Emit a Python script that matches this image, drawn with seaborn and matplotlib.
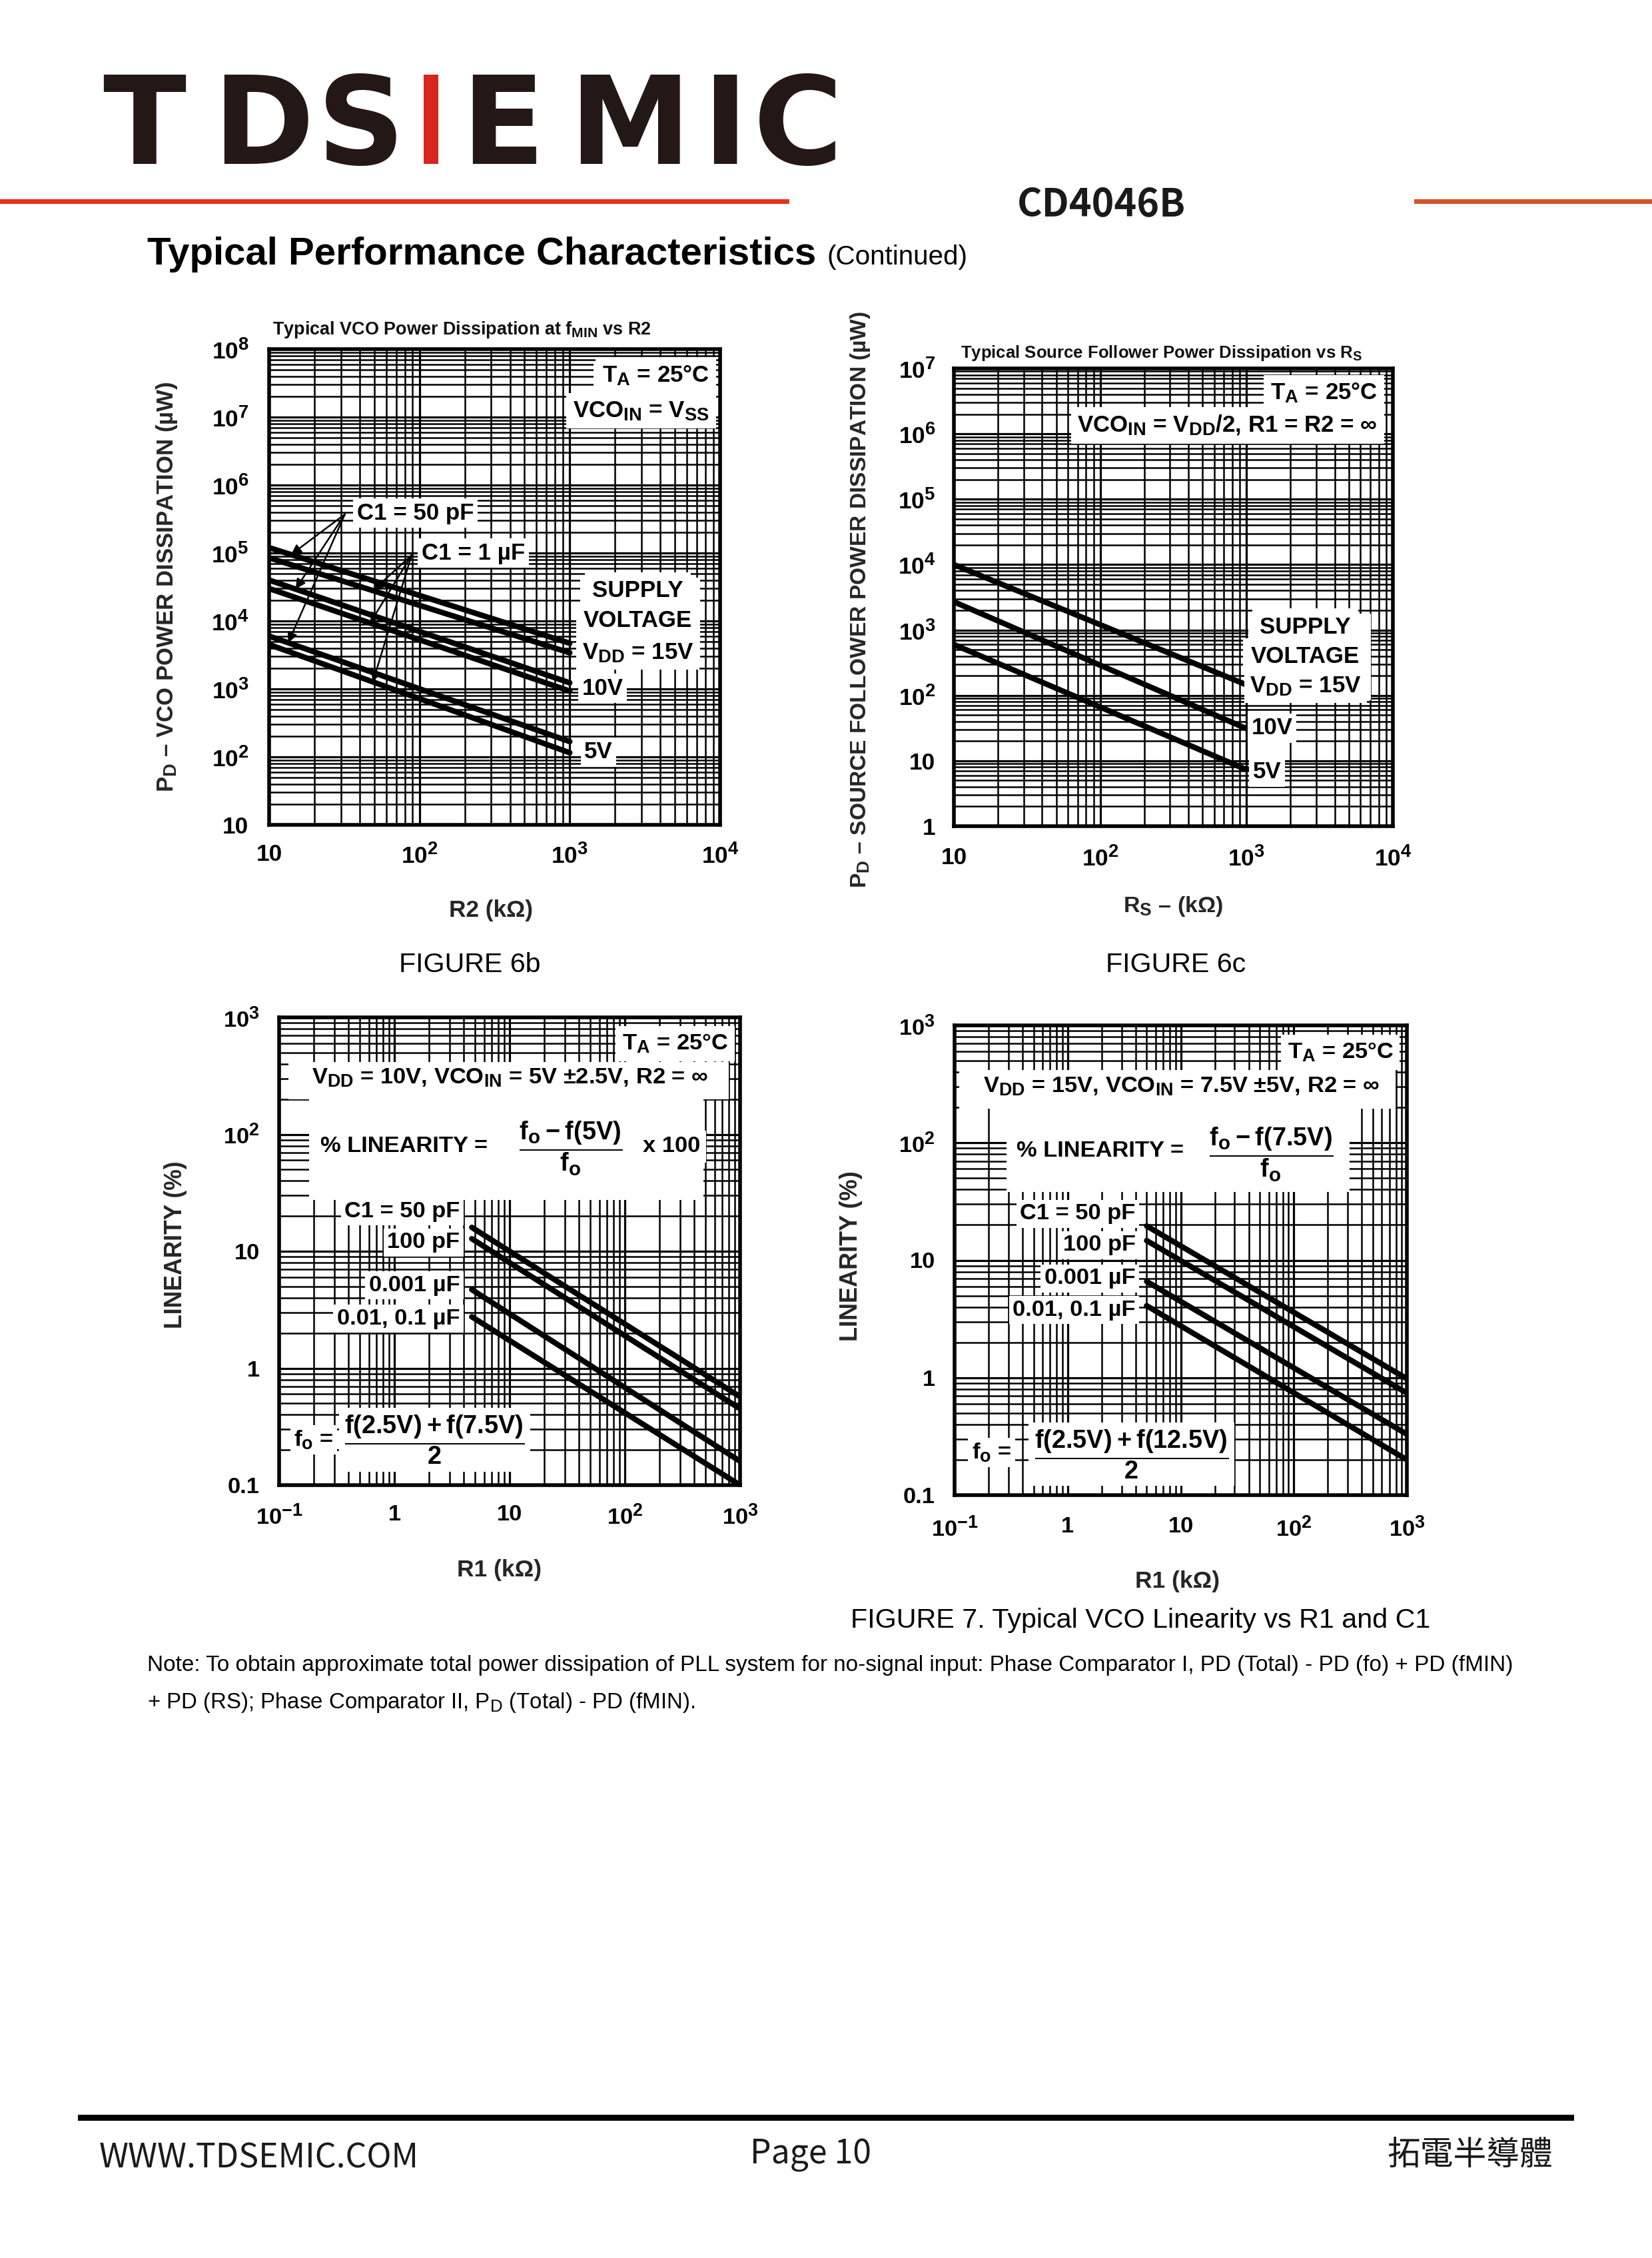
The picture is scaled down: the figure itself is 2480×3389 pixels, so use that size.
import numpy as np
import pandas as pd
import matplotlib
matplotlib.use("Agg")
import matplotlib.pyplot as plt
import matplotlib._mathtext as _mt
import seaborn as sns
from matplotlib import font_manager
from matplotlib.ticker import LogLocator, NullFormatter
from matplotlib.patches import Rectangle

# ------------------------------------------------------------------ data
# Figure 6b: VCO power dissipation at fMIN vs R2 (uW)
R2_KOHM = [10, 1000]
PD6B_15V_50PF = [1.2e5, 4.7e3]
PD6B_15V_1UF = [8.5e4, 3.4e3]
PD6B_10V_50PF = [4.0e4, 1.23e3]
PD6B_10V_1UF = [3.0e4, 9.3e2]
PD6B_5V_50PF = [6.0e3, 1.68e2]
PD6B_5V_1UF = [4.5e3, 1.15e2]

# Figure 6c: source follower power dissipation vs RS (uW)
RS_KOHM = [10, 1000]
PD6C_15V = [1.0e4, 1.45e2]
PD6C_10V = [2.7e3, 31]
PD6C_5V = [6.0e2, 7.3]

# Figure 7 (left): linearity, VDD = 10 V
R1_KOHM_10V = [4.7, 1000]
LIN10_50PF = [16.0, 0.57]
LIN10_100PF = [12.8, 0.45]
LIN10_1NF = [4.7, 0.16]
LIN10_10NF = [2.75, 0.10]

# Figure 7 (right): linearity, VDD = 15 V
R1_KOHM_15V = [5.0, 1000]
LIN15_50PF = [19.6, 0.98]
LIN15_100PF = [14.7, 0.74]
LIN15_1NF = [6.6, 0.33]
LIN15_10NF = [4.1, 0.20]

# tick values / labels
X6_TICKS = [10, 100, 1000, 10000]
X6_LABELS = ["10", r"$\mathregular{10^2}$", r"$\mathregular{10^3}$", r"$\mathregular{10^4}$"]
Y6B_TICKS = [1e1, 1e2, 1e3, 1e4, 1e5, 1e6, 1e7, 1e8]
Y6B_LABELS = ["10"] + [r"$\mathregular{10^%d}$" % k for k in range(2, 9)]
Y6C_TICKS = [1, 1e1, 1e2, 1e3, 1e4, 1e5, 1e6, 1e7]
Y6C_LABELS = ["1", "10"] + [r"$\mathregular{10^%d}$" % k for k in range(2, 8)]
X7_TICKS = [0.1, 1, 10, 100, 1000]
X7_LABELS = [r"$\mathregular{10^{-1}}$", "1", "10", r"$\mathregular{10^2}$", r"$\mathregular{10^3}$"]
Y7_TICKS = [0.1, 1, 10, 100, 1000]
Y7_LABELS = ["0.1", "1", "10", r"$\mathregular{10^2}$", r"$\mathregular{10^3}$"]

# ------------------------------------------------------------------ style
sns.set_theme(style="white")
names = {f.name for f in font_manager.fontManager.ttflist}
CHART_FONT = "Liberation Sans Narrow" if "Liberation Sans Narrow" in names else "Liberation Sans"
ARIAL = ["Liberation Sans", "DejaVu Sans"]
NOTO = ["Noto Sans CJK TC", "DejaVu Sans"]
plt.rcParams["font.family"] = [CHART_FONT, "DejaVu Sans"]
plt.rcParams["mathtext.fontset"] = "custom"
plt.rcParams["mathtext.rm"] = CHART_FONT
plt.rcParams["axes.unicode_minus"] = True
_mt.SHRINK_FACTOR = 0.78   # larger sub/superscripts, as in the scanned chart

W, H = 2480, 3389
fig = plt.figure(figsize=(W / 100, H / 100), dpi=100)
fig.patch.set_facecolor("white")
renderer = fig.canvas.get_renderer()


def box(x0, y0, x1, y1):
    return [x0 / W, 1 - y1 / H, (x1 - x0) / W, (y1 - y0) / H]


def fxy(x, y):
    return x / W, 1 - y / H


def fit(t, target, dim="w"):
    bb = t.get_window_extent(renderer=renderer)
    cur = bb.width if dim == "w" else bb.height
    if cur > 0:
        t.set_fontsize(t.get_fontsize() * target / cur)


# scale for chart lettering (depends on which font is available)
probe = fig.text(0, 0, "SUPPLY", fontsize=30, fontweight="bold")
S = 129.0 / probe.get_window_extent(renderer=renderer).width
probe.remove()
T6 = 28 * S * 1.13
TK6 = 27 * S * 1.18
T7 = 26 * S * 1.2
TK7 = 26 * S * 1.2
FR7 = T7 * 1.1


def make_axes(pxbox):
    ax = fig.add_axes(box(*pxbox))
    ax.set_xscale("log")
    ax.set_yscale("log")
    return ax


def finish_axes(ax, xlim, ylim, xt, xtl, yt, ytl, tick_fs, xpad, ypad):
    ax.set_xlim(*xlim)
    ax.set_ylim(*ylim)
    ax.set_xticks(xt, labels=xtl)
    ax.set_yticks(yt, labels=ytl)
    for axis in (ax.xaxis, ax.yaxis):
        axis.set_minor_locator(LogLocator(base=10, subs=np.arange(2, 10), numticks=100))
        axis.set_minor_formatter(NullFormatter())
    ax.set_axisbelow(True)
    ax.grid(True, which="major", color="black", lw=2.3)
    ax.grid(True, which="minor", color="black", lw=1.8)
    ax.tick_params(which="both", length=0)
    ax.tick_params(axis="x", pad=xpad, labelsize=tick_fs, colors="black")
    ax.tick_params(axis="y", pad=ypad, labelsize=tick_fs, colors="black")
    for lab in ax.get_xticklabels() + ax.get_yticklabels():
        lab.set_fontweight("bold")
    for sp in ax.spines.values():
        sp.set_visible(True)
        sp.set_color("black")
        sp.set_linewidth(4)
    ax.set_facecolor("white")


def blank(ax, x0, y0, x1, y1):
    """White panel (in axes fraction) that masks the grid behind annotation blocks."""
    ax.add_patch(Rectangle((x0, y0), x1 - x0, y1 - y0, transform=ax.transAxes,
                           facecolor="white", edgecolor="none", zorder=1.5))


def ctext(ax, x, y, s, fs, ha="left", va="center", bg=True, pad=4):
    kw = dict(transform=ax.transAxes, ha=ha, va=va, fontsize=fs,
              fontweight="bold", color="black", zorder=5)
    if bg:
        kw["bbox"] = dict(facecolor="white", edgecolor="none", pad=pad)
    return ax.text(x, y, s, **kw)


def loginterp(x, xs, ys):
    return 10 ** np.interp(np.log10(x), np.log10(xs), np.log10(ys))


def draw_series(ax, xs, series, lw=6):
    rows = []
    for name, vals in series.items():
        for xv, yv in zip(xs, vals):
            rows.append((name, xv, yv))
    df = pd.DataFrame(rows, columns=["series", "x", "y"])
    sns.lineplot(data=df, x="x", y="y", hue="series", palette=["black"] * len(series),
                 linewidth=lw, legend=False, ax=ax, zorder=3, estimator=None)
    ax.set_xlabel("")
    ax.set_ylabel("")


# ------------------------------------------------------------------ header
logo_letters = [("T", 217), ("D", 395), ("S", 542), ("E", 755), ("M", 945), ("I", 1088), ("C", 1198)]
for ch, cx in logo_letters:
    fig.text(*fxy(cx, 246), ch, ha="center", va="baseline", fontsize=132,
             family=["DejaVu Sans"], fontweight="bold", color="#231815")
fig.patches.append(Rectangle(fxy(636, 246), 22 / W, 134 / H, transform=fig.transFigure,
                             facecolor="#d7261e", edgecolor="none"))
fig.patches.append(Rectangle(fxy(0, 306), 1185 / W, 7 / H, transform=fig.transFigure,
                             facecolor="#e5321d", edgecolor="none"))
fig.patches.append(Rectangle(fxy(2123, 306), (W - 2123) / W, 7 / H, transform=fig.transFigure,
                             facecolor="#d6542b", edgecolor="none"))

t = fig.text(*fxy(1527, 324), "CD4046B", ha="left", va="baseline", fontsize=45,
             family=NOTO, fontweight="bold", color="#1a1a1a")
fit(t, 253)
t = fig.text(*fxy(221, 397), "Typical Performance Characteristics", ha="left", va="baseline",
             fontsize=42, family=ARIAL, fontweight="bold", color="black")
fit(t, 1005)
t = fig.text(*fxy(1242, 397), "(Continued)", ha="left", va="baseline",
             fontsize=29, family=ARIAL, color="black")
fit(t, 211)

# ------------------------------------------------------------------ Figure 6b
ax = make_axes((404, 524, 1081, 1238))
draw_series(ax, R2_KOHM, {"15V 50pF": PD6B_15V_50PF, "15V 1uF": PD6B_15V_1UF,
                          "10V 50pF": PD6B_10V_50PF, "10V 1uF": PD6B_10V_1UF,
                          "5V 50pF": PD6B_5V_50PF, "5V 1uF": PD6B_5V_1UF})
finish_axes(ax, (10, 1e4), (10, 1e8), X6_TICKS, X6_LABELS, Y6B_TICKS, Y6B_LABELS, TK6, 20, 22)
blank(ax, 0.69, 0.33, 0.955, 0.52)
blank(ax, 0.72, 0.84, 0.975, 0.975)
ctext(ax, 0.976, 0.945, r"$\mathregular{T_A}$ = 25°C", T6, ha="right", pad=7)
ctext(ax, 0.976, 0.870, r"$\mathregular{VCO_{IN}}$ = $\mathregular{V_{SS}}$", T6, ha="right", pad=7)
ctext(ax, 0.195, 0.655, "C1 = 50 pF", T6)
ctext(ax, 0.338, 0.571, "C1 = 1 µF", T6)
ctext(ax, 0.818, 0.492, "SUPPLY", T6, ha="center", pad=8)
ctext(ax, 0.818, 0.429, "VOLTAGE", T6, ha="center", pad=8)
ctext(ax, 0.694, 0.361, r"$\mathregular{V_{DD}}$ = 15V", T6, pad=6)
ctext(ax, 0.694, 0.287, "10V", T6)
ctext(ax, 0.699, 0.153, "5V", T6)
arrow_kw = dict(arrowstyle="-|>", color="black", lw=1.8, mutation_scale=22, shrinkA=0, shrinkB=0)
for xa, ys in [(14, PD6B_15V_50PF), (15, PD6B_10V_50PF), (13.4, PD6B_5V_50PF)]:
    ax.annotate("", xy=(xa, loginterp(xa, R2_KOHM, ys)), xycoords="data",
                xytext=(0.168, 0.653), textcoords="axes fraction", arrowprops=arrow_kw, zorder=4)
for xa, ys in [(49, PD6B_15V_1UF), (47, PD6B_10V_1UF), (49, PD6B_5V_1UF)]:
    ax.annotate("", xy=(xa, loginterp(xa, R2_KOHM, ys)), xycoords="data",
                xytext=(0.316, 0.567), textcoords="axes fraction", arrowprops=arrow_kw, zorder=4)
t = ax.text(0.008, 1.04, r"Typical VCO Power Dissipation at $\mathregular{f_{MIN}}$ vs R2",
            transform=ax.transAxes, ha="left", va="center", fontsize=18.5,
            family=ARIAL, fontweight="bold", color="#111111")
fit(t, 571)
ax.set_xlabel("R2 (kΩ)", fontsize=T6, fontweight="bold")
ax.set_ylabel(r"$\mathregular{P_D}$ – VCO POWER DISSIPATION (µW)", fontsize=T6, fontweight="bold")
ax.xaxis.set_label_coords(0.492, -0.157)
ax.yaxis.set_label_coords(-0.2, 0.5)
fit(ax.xaxis.label, 126)
fit(ax.yaxis.label, 616, "h")

# ------------------------------------------------------------------ Figure 6c
ax = make_axes((1432, 553, 2091, 1240))
draw_series(ax, RS_KOHM, {"15V": PD6C_15V, "10V": PD6C_10V, "5V": PD6C_5V})
finish_axes(ax, (10, 1e4), (1, 1e7), X6_TICKS, X6_LABELS, Y6C_TICKS, Y6C_LABELS, TK6, 22, 20)
blank(ax, 0.67, 0.275, 0.95, 0.465)
blank(ax, 0.27, 0.84, 0.965, 0.90)
blank(ax, 0.72, 0.91, 0.965, 0.975)
ctext(ax, 0.965, 0.946, r"$\mathregular{T_A}$ = 25°C", T6, ha="right", pad=7)
ctext(ax, 0.965, 0.876, r"$\mathregular{VCO_{IN}}$ = $\mathregular{V_{DD}}$/2, R1 = R2 = ∞", T6,
      ha="right", pad=7)
ctext(ax, 0.80, 0.435, "SUPPLY", T6, ha="center", pad=8)
ctext(ax, 0.80, 0.370, "VOLTAGE", T6, ha="center", pad=8)
ctext(ax, 0.674, 0.306, r"$\mathregular{V_{DD}}$ = 15V", T6, pad=6)
ctext(ax, 0.678, 0.214, "10V", T6)
ctext(ax, 0.681, 0.118, "5V", T6)
t = ax.text(0.015, 1.033, r"Typical Source Follower Power Dissipation vs $\mathregular{R_S}$",
            transform=ax.transAxes, ha="left", va="center", fontsize=18.5,
            family=ARIAL, fontweight="bold", color="#111111")
fit(t, 606)
ax.set_xlabel(r"$\mathregular{R_S}$ – (kΩ)", fontsize=T6, fontweight="bold")
ax.set_ylabel(r"$\mathregular{P_D}$ – SOURCE FOLLOWER POWER DISSIPATION (µW)", fontsize=T6, fontweight="bold")
ax.xaxis.set_label_coords(0.5, -0.15)
ax.yaxis.set_label_coords(-0.187, 0.495)
fit(ax.xaxis.label, 150)
fit(ax.yaxis.label, 863, "h")

# ------------------------------------------------------------------ Figure 7 left
ax = make_axes((419, 1527, 1111, 2229))
draw_series(ax, R1_KOHM_10V, {"50pF": LIN10_50PF, "100pF": LIN10_100PF,
                              "0.001uF": LIN10_1NF, "0.01uF": LIN10_10NF})
finish_axes(ax, (0.1, 1000), (0.1, 1000), X7_TICKS, X7_LABELS, Y7_TICKS, Y7_LABELS, TK7, 21, 21)
blank(ax, 0.02, 0.825, 0.975, 0.905)
blank(ax, 0.065, 0.61, 0.92, 0.825)
ctext(ax, 0.974, 0.944, r"$\mathregular{T_A}$ = 25°C", T7, ha="right", pad=7)
ctext(ax, 0.5, 0.870, r"$\mathregular{V_{DD}}$ = 10V, $\mathregular{VCO_{IN}}$ = 5V ±2.5V, R2 = ∞",
      T7, ha="center", pad=6)
ctext(ax, 0.09, 0.724, "% LINEARITY =", T7, pad=6)
ctext(ax, 0.632, 0.72, r"$\dfrac{\mathregular{f_o - f(5V)}}{\mathregular{f_o}}$", FR7, ha="center", pad=6)
ctext(ax, 0.789, 0.724, "x 100", T7, pad=6)
for yy, lab in [(0.585, "C1 = 50 pF"), (0.519, "100 pF"), (0.427, "0.001 µF"), (0.356, "0.01, 0.1 µF")]:
    ctext(ax, 0.392, yy, lab, T7, ha="right")
ctext(ax, 0.032, 0.097, r"$\mathregular{f_o}$ =", T7)
ctext(ax, 0.337, 0.097, r"$\dfrac{\mathregular{f(2.5V) + f(7.5V)}}{\mathregular{2}}$", FR7, ha="center", pad=6)
ax.set_xlabel("R1 (kΩ)", fontsize=T7, fontweight="bold")
ax.set_ylabel("LINEARITY (%)", fontsize=T7, fontweight="bold")
ax.xaxis.set_label_coords(0.478, -0.158)
ax.yaxis.set_label_coords(-0.2, 0.514)
fit(ax.xaxis.label, 127)
fit(ax.yaxis.label, 252, "h")

# ------------------------------------------------------------------ Figure 7 right
ax = make_axes((1433, 1539, 2112, 2244))
draw_series(ax, R1_KOHM_15V, {"50pF": LIN15_50PF, "100pF": LIN15_100PF,
                              "0.001uF": LIN15_1NF, "0.01uF": LIN15_10NF})
finish_axes(ax, (0.1, 1000), (0.1, 1000), X7_TICKS, X7_LABELS, Y7_TICKS, Y7_LABELS, TK7, 23, 21)
blank(ax, 0.01, 0.822, 0.975, 0.905)
blank(ax, 0.115, 0.645, 0.873, 0.822)
ctext(ax, 0.97, 0.943, r"$\mathregular{T_A}$ = 25°C", T7, ha="right", pad=7)
ctext(ax, 0.502, 0.870, r"$\mathregular{V_{DD}}$ = 15V, $\mathregular{VCO_{IN}}$ = 7.5V ±5V, R2 = ∞",
      T7, ha="center", pad=6)
ctext(ax, 0.137, 0.732, "% LINEARITY =", T7, pad=6)
ctext(ax, 0.70, 0.725, r"$\dfrac{\mathregular{f_o - f(7.5V)}}{\mathregular{f_o}}$", FR7, ha="center", pad=6)
for yy, lab in [(0.599, "C1 = 50 pF"), (0.532, "100 pF"), (0.461, "0.001 µF"), (0.394, "0.01, 0.1 µF")]:
    ctext(ax, 0.40, yy, lab, T7, ha="right")
ctext(ax, 0.038, 0.091, r"$\mathregular{f_o}$ =", T7)
ctext(ax, 0.391, 0.087, r"$\dfrac{\mathregular{f(2.5V) + f(12.5V)}}{\mathregular{2}}$", FR7, ha="center", pad=6)
ax.set_xlabel("R1 (kΩ)", fontsize=T7, fontweight="bold")
ax.set_ylabel("LINEARITY (%)", fontsize=T7, fontweight="bold")
ax.xaxis.set_label_coords(0.493, -0.16)
ax.yaxis.set_label_coords(-0.203, 0.509)
fit(ax.xaxis.label, 127)
fit(ax.yaxis.label, 256, "h")

# ------------------------------------------------------------------ captions / note
t = fig.text(*fxy(599, 1459), "FIGURE 6b", ha="left", va="baseline", fontsize=29, family=ARIAL, color="black")
fit(t, 212)
t = fig.text(*fxy(1660, 1459), "FIGURE 6c", ha="left", va="baseline", fontsize=29, family=ARIAL, color="black")
fit(t, 210)
t = fig.text(*fxy(1277, 2443), "FIGURE 7. Typical VCO Linearity vs R1 and C1", ha="left", va="baseline",
             fontsize=29, family=ARIAL, color="black")
fit(t, 871)
t = fig.text(*fxy(221, 2508),
             "Note: To obtain approximate total power dissipation of PLL system for no-signal input: "
             "Phase Comparator I, PD (Total) - PD (fo) + PD (fMIN)",
             ha="left", va="baseline", fontsize=22, family=ARIAL, color="black")
fit(t, 2041)
t = fig.text(*fxy(221, 2564), r"+ PD (RS); Phase Comparator II, $\mathregular{P_D}$ (Total) - PD (fMIN).",
             ha="left", va="baseline", fontsize=22, family=ARIAL, color="black")
fit(t, 822)

# ------------------------------------------------------------------ footer
fig.patches.append(Rectangle(fxy(117, 3183), (2363 - 117) / W, 9 / H, transform=fig.transFigure,
                             facecolor="black", edgecolor="none"))
t = fig.text(*fxy(149, 3253), "WWW.TDSEMIC.COM", ha="left", va="baseline", fontsize=36,
             family=NOTO, color="#1a1a1a")
fit(t, 480)
t = fig.text(*fxy(1126, 3248), "Page 10", ha="left", va="baseline", fontsize=38,
             family=NOTO, color="#1a1a1a")
fit(t, 182)
t = fig.text(*fxy(2082, 3235), "拓電半導體", ha="left", va="center", fontsize=36,
             family=NOTO, color="#1a1a1a")
fit(t, 249)

fig.savefig("out.png", dpi=100, facecolor="white")
